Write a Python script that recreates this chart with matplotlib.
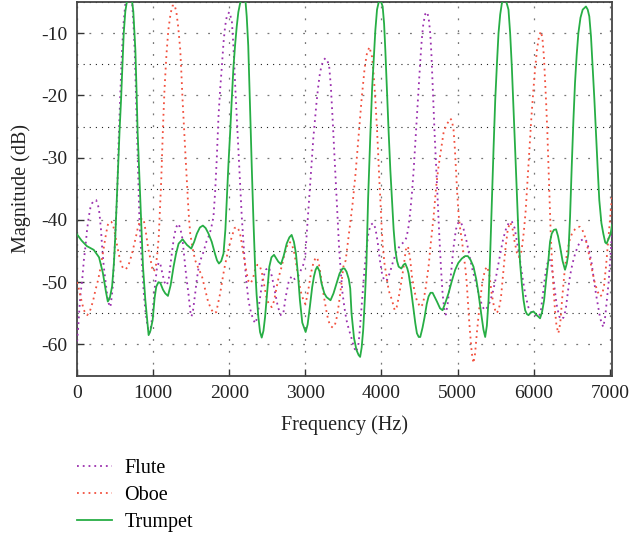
import matplotlib
matplotlib.use("Agg")
import matplotlib.pyplot as plt
from matplotlib.ticker import MultipleLocator

# spectra (Hz, dB)
flute_hz = [0, 15, 33, 50, 68, 90, 111, 133, 155, 177, 199, 225, 251, 275, 295, 315, 330, 352, 374, 396,
            417, 439, 455, 470, 483, 496, 511, 527, 548, 570, 592, 614, 636, 680, 723, 740, 758, 773, 789, 804,
            819, 837, 854, 876, 898, 925, 950, 975, 1000, 1025, 1051, 1075, 1094, 1120, 1150, 1180, 1205, 1230, 1255, 1280,
            1310, 1335, 1360, 1385, 1410, 1435, 1466, 1490, 1505, 1525, 1553, 1575, 1600, 1630, 1660, 1700, 1728, 1760, 1793, 1815,
            1837, 1859, 1881, 1903, 1925, 1946, 1968, 2000, 2034, 2055, 2077, 2099, 2121, 2143, 2165, 2187, 2208, 2230, 2252, 2285,
            2318, 2345, 2370, 2405, 2440, 2480, 2520, 2560, 2600, 2640, 2680, 2711, 2740, 2780, 2820, 2860, 2900, 2951, 2980, 3000,
            3020, 3040, 3060, 3082, 3104, 3126, 3148, 3170, 3191, 3213, 3240, 3265, 3290, 3314, 3335, 3357, 3380, 3401, 3423, 3445,
            3467, 3489, 3515, 3541, 3570, 3607, 3640, 3670, 3700, 3720, 3745, 3770, 3800, 3830, 3860, 3890, 3920, 3950, 3980, 4010,
            4040, 4075, 4110, 4150, 4200, 4250, 4300, 4330, 4357, 4380, 4402, 4423, 4445, 4466, 4488, 4510, 4530, 4550, 4576, 4600,
            4620, 4641, 4657, 4672, 4685, 4698, 4714, 4729, 4744, 4759, 4781, 4803, 4825, 4845, 4870, 4905, 4930, 4948, 4979, 5014,
            5045, 5080, 5120, 5160, 5200, 5240, 5290, 5330, 5360, 5395, 5430, 5465, 5500, 5530, 5560, 5600, 5640, 5680, 5715, 5750,
            5780, 5810, 5850, 5890, 5930, 5975, 6019, 6060, 6090, 6120, 6150, 6180, 6210, 6237, 6265, 6300, 6335, 6368, 6395, 6420,
            6450, 6477, 6510, 6543, 6580, 6620, 6665, 6700, 6730, 6762, 6790, 6820, 6849, 6871, 6893, 6915, 6940, 6965, 6985, 7005,
            7030]
flute_db = [-59.5, -57.5, -54.0, -51.5, -49.7, -46.5, -44.3, -41.5, -39.5, -38.0, -37.3, -36.9, -36.8, -37.5, -38.9, -41.5, -44.3, -47.5, -49.7, -52.0,
            -53.4, -54.0, -52.5, -50.7, -47.5, -44.3, -40.0, -36.3, -27.0, -19.5, -12.7, -8.0, -5.2, -4.0, -4.8, -8.0, -12.7, -19.0, -26.0, -33.0,
            -39.5, -44.0, -47.0, -51.5, -54.5, -57.0, -58.2, -57.0, -54.0, -50.5, -47.7, -46.8, -47.0, -48.5, -50.0, -50.5, -49.5, -47.0, -44.5, -42.3,
            -41.0, -40.6, -41.5, -43.0, -46.0, -49.0, -52.0, -54.8, -55.5, -54.5, -51.8, -49.5, -47.5, -46.2, -45.2, -43.5, -42.7, -41.5, -39.5, -35.5,
            -30.0, -23.4, -19.0, -15.4, -11.5, -8.9, -7.3, -6.6, -7.9, -12.0, -18.0, -23.5, -28.8, -34.0, -39.5, -43.5, -47.5, -50.3, -52.9, -54.8,
            -56.1, -56.6, -55.5, -52.5, -49.5, -48.0, -47.6, -49.0, -51.5, -54.0, -55.3, -55.0, -52.5, -50.0, -49.0, -49.5, -49.2, -47.8, -47.0, -45.5,
            -42.0, -38.5, -35.0, -31.0, -27.0, -24.0, -21.0, -18.5, -16.5, -15.2, -14.3, -14.0, -14.4, -15.4, -18.5, -23.4, -29.0, -34.1, -39.5, -44.8,
            -48.5, -51.8, -54.2, -56.1, -57.5, -59.0, -60.5, -61.2, -59.8, -57.0, -53.0, -49.0, -45.0, -42.0, -40.8, -40.5, -41.3, -43.5, -46.5, -48.8,
            -49.8, -49.6, -48.5, -46.8, -45.0, -44.0, -43.5, -42.8, -41.0, -38.5, -35.5, -32.0, -27.5, -23.0, -18.5, -14.5, -11.0, -8.5, -6.9, -6.6,
            -7.5, -10.0, -13.5, -18.0, -22.0, -26.0, -30.0, -34.1, -38.3, -42.2, -47.5, -51.8, -54.3, -55.2, -53.5, -49.7, -46.5, -44.3, -41.5, -40.3,
            -40.4, -41.5, -43.5, -46.0, -48.2, -50.0, -52.5, -54.0, -54.5, -54.0, -53.0, -51.5, -49.5, -47.5, -45.5, -43.0, -41.3, -40.3, -40.3, -41.3,
            -43.5, -45.5, -49.0, -52.0, -54.0, -55.0, -55.2, -55.6, -55.0, -52.0, -49.0, -47.0, -46.3, -47.5, -50.0, -53.5, -55.5, -56.0, -55.6, -54.5,
            -51.5, -49.0, -47.0, -45.5, -44.2, -43.3, -43.0, -43.5, -45.0, -47.0, -49.5, -52.0, -54.0, -55.6, -56.6, -57.2, -55.5, -52.5, -50.0, -46.5,
            -42.0]

oboe_hz = [0, 15, 46, 90, 133, 165, 190, 215, 242, 270, 295, 318, 339, 360, 382, 405, 426, 450, 470, 492,
           513, 535, 557, 585, 614, 640, 670, 697, 723, 750, 775, 800, 832, 860, 880, 905, 935, 963, 990, 1010,
           1035, 1055, 1075, 1090, 1107, 1130, 1150, 1175, 1200, 1230, 1255, 1280, 1305, 1330, 1357, 1372, 1387, 1405, 1422, 1440,
           1457, 1473, 1488, 1518, 1553, 1597, 1641, 1680, 1720, 1760, 1800, 1830, 1860, 1881, 1903, 1924, 1946, 1968, 2000, 2034,
           2070, 2099, 2121, 2143, 2165, 2187, 2210, 2230, 2252, 2280, 2310, 2340, 2370, 2400, 2430, 2460, 2490, 2520, 2558, 2590,
           2620, 2650, 2689, 2720, 2755, 2790, 2820, 2850, 2886, 2910, 2940, 2973, 3000, 3020, 3045, 3075, 3104, 3130, 3155, 3180,
           3210, 3244, 3275, 3301, 3330, 3360, 3390, 3420, 3454, 3480, 3500, 3530, 3560, 3590, 3620, 3660, 3700, 3740, 3780, 3810,
           3842, 3877, 3900, 3920, 3940, 3955, 3970, 3986, 4000, 4016, 4040, 4060, 4095, 4139, 4174, 4200, 4226, 4260, 4292, 4320,
           4348, 4375, 4400, 4435, 4466, 4510, 4546, 4580, 4619, 4650, 4685, 4720, 4750, 4785, 4816, 4850, 4881, 4905, 4925, 4947,
           4962, 4977, 4995, 5012, 5035, 5056, 5080, 5100, 5120, 5135, 5150, 5165, 5187, 5209, 5230, 5253, 5275, 5296, 5327, 5360,
           5390, 5420, 5450, 5480, 5510, 5540, 5570, 5600, 5630, 5660, 5691, 5720, 5750, 5780, 5810, 5840, 5870, 5895, 5920, 5945,
           5970, 5997, 6020, 6045, 6070, 6095, 6115, 6135, 6150, 6165, 6180, 6194, 6210, 6224, 6242, 6259, 6280, 6300, 6325, 6350,
           6375, 6412, 6445, 6477, 6510, 6543, 6580, 6609, 6640, 6674, 6708, 6740, 6775, 6805, 6840, 6871, 6900, 6925, 6950, 6980,
           7000, 7030]
oboe_db = [-50.0, -50.5, -52.3, -54.5, -55.3, -54.8, -53.9, -52.8, -51.3, -50.0, -48.6, -47.0, -45.4, -43.8, -42.2, -40.8, -40.3, -40.3, -40.6, -41.8,
           -43.2, -44.6, -45.9, -47.3, -47.9, -47.9, -47.5, -46.5, -45.4, -44.0, -42.7, -41.2, -40.0, -39.7, -40.2, -42.0, -44.5, -46.2, -47.8, -48.3,
           -47.5, -45.5, -42.5, -38.5, -33.6, -25.0, -19.0, -13.5, -9.5, -6.8, -5.6, -5.4, -6.5, -9.0, -12.7, -16.5, -20.7, -25.0, -28.8, -33.0,
           -36.8, -40.0, -42.2, -44.5, -46.5, -47.8, -49.0, -51.0, -53.0, -54.3, -55.0, -54.8, -53.0, -51.8, -50.2, -48.6, -47.2, -45.9, -44.2, -42.7,
           -41.3, -41.1, -41.5, -42.2, -43.8, -45.4, -47.0, -48.6, -49.8, -50.2, -49.5, -48.0, -47.2, -47.3, -48.5, -50.5, -52.5, -53.5, -54.0, -53.0,
           -51.0, -49.2, -47.5, -45.8, -44.3, -43.5, -43.8, -45.0, -47.5, -49.5, -51.5, -52.8, -53.5, -52.5, -50.8, -48.5, -47.0, -46.2, -46.0, -47.2,
           -49.5, -52.3, -54.5, -56.1, -57.0, -57.3, -56.8, -55.3, -52.3, -49.5, -47.5, -46.5, -43.5, -40.5, -37.5, -32.5, -26.5, -20.5, -15.5, -13.2,
           -12.2, -13.8, -17.0, -20.7, -25.0, -28.8, -33.0, -36.8, -40.5, -44.0, -47.0, -48.6, -51.3, -52.9, -54.5, -54.0, -52.5, -50.0, -47.5, -44.8,
           -44.2, -46.0, -49.0, -51.5, -53.0, -54.0, -53.5, -51.0, -47.5, -43.5, -39.5, -34.5, -31.4, -28.5, -26.0, -24.8, -24.2, -23.7, -24.0, -25.5,
           -28.0, -31.4, -35.5, -38.9, -41.5, -43.2, -45.5, -47.5, -50.0, -52.9, -55.8, -58.2, -61.4, -63.0, -61.5, -58.2, -55.5, -52.9, -50.0, -48.0,
           -47.5, -49.0, -52.0, -54.0, -55.0, -54.5, -52.5, -48.5, -44.5, -41.5, -40.4, -41.2, -43.5, -45.3, -46.0, -45.0, -42.0, -38.5, -33.5, -28.5,
           -23.5, -19.0, -15.5, -12.5, -10.5, -9.7, -10.8, -13.8, -17.5, -21.5, -26.0, -31.0, -37.0, -42.2, -47.0, -50.5, -54.5, -57.0, -58.2, -56.5,
           -52.5, -47.5, -44.8, -43.0, -42.0, -41.5, -41.1, -41.1, -41.6, -42.7, -44.4, -46.4, -48.5, -50.2, -51.5, -52.3, -52.0, -50.5, -47.5, -43.2,
           -40.5, -36.0]

trumpet_hz = [0, 60, 130, 220, 290, 340, 380, 405, 430, 461, 485, 505, 525, 540, 560, 579, 597, 614, 635, 657,
              690, 720, 740, 767, 782, 797, 815, 832, 850, 867, 898, 941, 965, 994, 1020, 1042, 1070, 1094, 1130, 1160,
              1195, 1230, 1269, 1300, 1335, 1387, 1444, 1501, 1540, 1575, 1615, 1654, 1690, 1728, 1770, 1815, 1840, 1865, 1895, 1925,
              1950, 1968, 1990, 2012, 2034, 2056, 2078, 2099, 2120, 2143, 2187, 2215, 2230, 2250, 2265, 2280, 2296, 2318, 2340, 2360,
              2383, 2405, 2427, 2450, 2471, 2500, 2527, 2555, 2589, 2620, 2645, 2680, 2715, 2755, 2790, 2820, 2850, 2877, 2905, 2929,
              2960, 3004, 3030, 3060, 3090, 3113, 3135, 3157, 3185, 3213, 3250, 3279, 3331, 3370, 3410, 3450, 3489, 3515, 3541, 3571,
              3590, 3607, 3640, 3672, 3700, 3720, 3740, 3760, 3785, 3803, 3825, 3855, 3877, 3898, 3920, 3942, 3977, 4016, 4035, 4051,
              4073, 4095, 4117, 4139, 4160, 4182, 4205, 4226, 4261, 4290, 4313, 4340, 4357, 4390, 4423, 4445, 4466, 4490, 4510, 4540,
              4567, 4595, 4619, 4645, 4672, 4700, 4729, 4770, 4803, 4840, 4881, 4925, 4969, 5010, 5056, 5100, 5135, 5170, 5209, 5245,
              5275, 5310, 5340, 5363, 5385, 5407, 5430, 5451, 5473, 5495, 5517, 5538, 5560, 5582, 5626, 5669, 5691, 5713, 5735, 5757,
              5780, 5800, 5822, 5844, 5866, 5888, 5910, 5932, 5960, 5997, 6020, 6041, 6084, 6110, 6137, 6165, 6194, 6215, 6237, 6265,
              6294, 6320, 6347, 6380, 6412, 6435, 6456, 6478, 6500, 6522, 6543, 6565, 6587, 6615, 6644, 6687, 6710, 6731, 6753, 6775,
              6797, 6818, 6840, 6862, 6890, 6915, 6940, 6958, 6985, 7011, 7030]
trumpet_db = [-42.3, -43.3, -44.2, -44.8, -46.0, -48.5, -51.5, -53.1, -52.6, -50.7, -47.0, -42.2, -36.0, -31.4, -25.5, -20.7, -15.0, -10.0, -6.5, -4.8,
              -3.8, -4.5, -6.5, -12.7, -19.0, -26.0, -31.5, -36.8, -42.5, -47.5, -52.9, -58.5, -57.8, -56.1, -52.5, -50.7, -50.0, -50.1, -51.2, -51.8,
              -52.2, -50.5, -47.5, -45.5, -43.8, -43.1, -44.0, -44.6, -43.5, -42.2, -41.2, -40.9, -41.3, -42.2, -43.5, -45.5, -46.5, -47.0, -46.6, -45.4,
              -41.5, -36.8, -31.0, -26.0, -20.5, -15.4, -11.8, -8.9, -6.6, -5.2, -4.2, -5.0, -7.3, -12.0, -18.0, -24.5, -31.4, -40.0, -47.5, -52.0,
              -55.6, -58.0, -58.9, -57.8, -55.6, -51.5, -47.5, -46.0, -45.6, -46.2, -46.7, -47.1, -45.8, -43.8, -42.8, -42.4, -43.5, -45.4, -49.0, -52.9,
              -56.5, -58.0, -56.8, -53.9, -50.8, -49.1, -48.0, -47.5, -48.2, -50.2, -51.8, -52.4, -52.9, -51.8, -50.2, -48.6, -47.8, -47.8, -48.3, -49.5,
              -51.0, -55.0, -59.0, -60.9, -61.7, -62.0, -60.5, -57.7, -52.0, -47.0, -36.5, -26.0, -19.0, -14.3, -9.5, -6.2, -4.3, -5.7, -8.5, -12.7,
              -19.5, -26.0, -32.0, -36.8, -41.5, -44.8, -46.6, -47.5, -47.8, -47.2, -47.0, -47.8, -48.6, -51.3, -54.5, -56.6, -58.2, -58.8, -58.8, -57.3,
              -55.6, -53.5, -52.3, -51.7, -51.7, -52.4, -53.1, -54.2, -54.5, -53.3, -51.8, -49.8, -48.0, -46.9, -46.2, -45.8, -45.8, -46.4, -47.5, -49.5,
              -51.8, -55.0, -57.6, -58.8, -57.0, -52.9, -45.0, -36.8, -28.5, -20.7, -15.0, -10.0, -7.0, -5.2, -4.3, -6.2, -10.0, -15.4, -22.0, -28.8,
              -36.0, -42.2, -47.0, -50.2, -52.8, -54.5, -55.1, -55.3, -54.9, -54.7, -55.0, -55.3, -55.8, -54.8, -52.9, -49.5, -46.4, -43.5, -42.2, -41.6,
              -41.5, -42.6, -44.3, -46.6, -48.0, -47.0, -45.4, -39.5, -31.4, -24.0, -18.0, -13.5, -10.0, -7.5, -6.2, -5.7, -6.2, -7.3, -10.5, -15.4,
              -20.5, -26.0, -31.5, -36.8, -40.5, -42.2, -43.6, -43.8, -43.0, -42.2, -40.8]

x_ticks = [0, 1000, 2000, 3000, 4000, 5000, 6000, 7000]
y_ticks = [-60, -50, -40, -30, -20, -10]
legend_labels = ["Flute", "Oboe", "Trumpet"]

FLUTE_C = "#9b2fae"
OBOE_C = "#f2503e"
TRUMPET_C = "#27ae45"


def make_figure() -> None:
    plt.rcParams["font.family"] = ["Liberation Serif", "DejaVu Serif"]
    plt.rcParams["axes.unicode_minus"] = False
    fig = plt.figure(figsize=(6.31, 5.35), dpi=100)
    ax = fig.add_axes([0.122, 0.298, 0.848, 0.698])

    ax.plot(flute_hz, flute_db, color=FLUTE_C, lw=1.3, ls=(0, (1, 2.2)), label=legend_labels[0], zorder=3)
    ax.plot(oboe_hz, oboe_db, color=OBOE_C, lw=1.3, ls=(0, (1, 2.2)), label=legend_labels[1], zorder=3)
    ax.plot(trumpet_hz, trumpet_db, color=TRUMPET_C, lw=1.3, ls="-", label=legend_labels[2], zorder=4)

    ax.set_xlim(0, 7030)
    ax.set_ylim(-65, -5)
    ax.set_xticks(x_ticks)
    ax.set_yticks(y_ticks)
    ax.yaxis.set_minor_locator(MultipleLocator(5))
    ax.tick_params(axis="both", which="major", direction="in", length=5, width=1.0,
                   labelsize=14, colors="#333333", pad=7)
    ax.tick_params(axis="y", which="minor", length=0)
    for lab in ax.get_xticklabels() + ax.get_yticklabels():
        lab.set_color("#222222")

    ax.grid(True, which="major", axis="both", color="#777777", lw=0.9, ls=(0, (1.5, 8)))
    ax.grid(True, which="minor", axis="y", color="#222222", lw=0.8, ls=(0, (1, 4.5)))
    for sp in ax.spines.values():
        sp.set_color("#444444")
        sp.set_linewidth(1.3)

    ax.set_xlabel("Frequency (Hz)", fontsize=14.5, color="#222222", labelpad=9)
    ax.set_ylabel("Magnitude (dB)", fontsize=14.5, color="#222222", labelpad=7)

    ax.legend(loc="upper left", bbox_to_anchor=(0.122, 0.143), bbox_transform=fig.transFigure,
              frameon=False, fontsize=14.5, handlelength=1.75, handletextpad=0.6,
              labelspacing=0.4, borderpad=0, borderaxespad=0)

    fig.savefig("out.png", dpi=100)
    plt.close(fig)


if __name__ == "__main__":
    make_figure()
